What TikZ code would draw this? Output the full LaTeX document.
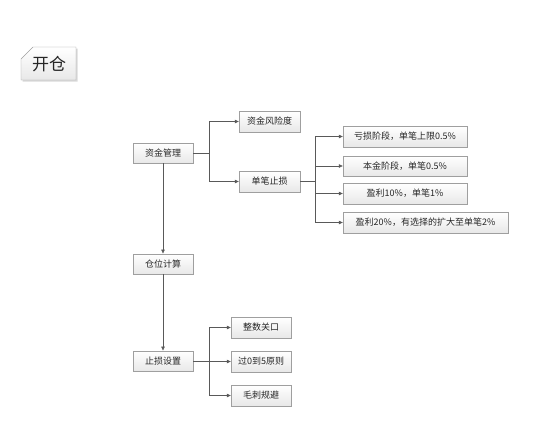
\documentclass[tikz,border=0pt]{standalone}
\usepackage{fontspec}
\setmainfont{Noto Sans CJK SC}
\usetikzlibrary{arrows.meta,shadows}
\tikzset{
  box/.style={draw=gray!75, top color=white, bottom color=gray!18, inner sep=0pt,
    minimum height=20.5pt, font=\fontsize{9}{10}\selectfont, text=black!85,
    drop shadow={shadow xshift=1.2pt, shadow yshift=-1.2pt, opacity=0.25}},
  arr/.style={draw=black!65, line width=0.6pt, -{Triangle[length=4pt,width=3.5pt]}},
  ln/.style={draw=black!65, line width=0.6pt}
}
\begin{document}
\begin{tikzpicture}[x=1pt,y=-1pt]
\useasboundingbox (0,0) rectangle (553,445);
% title tag
\path[draw=gray!75, top color=white, bottom color=gray!18,
  drop shadow={shadow xshift=1.5pt, shadow yshift=-1.5pt, opacity=0.3}]
  (21,59) -- (33,47) -- (76,47) -- (76,80) -- (21,80) -- cycle;
\node[font=\fontsize{17}{18}\selectfont, text=black!85] (title) at (49,64) {开仓};
% main column
\node[box, minimum width=60pt] (zjgl) at (163,153) {资金管理};
\node[box, minimum width=60pt] (cwjs) at (163,264) {仓位计算};
\node[box, minimum width=60pt] (zssz) at (163,361) {止损设置};
% first level branches
\node[box, minimum width=61pt] (zjfx) at (269.5,121.5) {资金风险度};
\node[box, minimum width=61pt] (dbzs) at (269.5,181.5) {单笔止损};
% second level
\node[box, minimum width=124pt] (k1) at (405,136.5) {亏损阶段，单笔上限0.5\%};
\node[box, minimum width=124pt] (k2) at (405,166) {本金阶段，单笔0.5\%};
\node[box, minimum width=124pt] (k3) at (405,193.5) {盈利10\%，单笔1\%};
\node[box, minimum width=165pt] (k4) at (425.5,222.5) {盈利20\%，有选择的扩大至单笔2\%};
% stop loss branches
\node[box, minimum width=60pt] (s1) at (261,327.5) {整数关口};
\node[box, minimum width=60pt] (s2) at (261,361.5) {过0到5原则};
\node[box, minimum width=60pt] (s3) at (261,395.5) {毛刺规避};
% connectors
\draw[arr] (zjgl.south) -- (cwjs.north);
\draw[arr] (cwjs.south) -- (zssz.north);
\draw[ln] (zjgl.east) -- ++(16,0) coordinate (b1);
\draw[arr] (b1) |- (zjfx.west);
\draw[arr] (b1) |- (dbzs.west);
\draw[ln] (dbzs.east) -- ++(15,0) coordinate (b2);
\draw[arr] (b2) |- (k1.west);
\draw[arr] (b2) |- (k2.west);
\draw[arr] (b2) |- (k3.west);
\draw[arr] (b2) |- (k4.west);
\draw[ln] (zssz.east) -- ++(16,0) coordinate (b3);
\draw[arr] (b3) |- (s1.west);
\draw[arr] (b3) |- (s2.west);
\draw[arr] (b3) |- (s3.west);
\end{tikzpicture}
\end{document}
